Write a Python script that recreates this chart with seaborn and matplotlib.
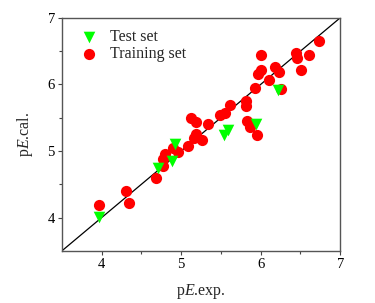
import numpy as np
import pandas as pd
import matplotlib
matplotlib.use("Agg")
import matplotlib.pyplot as plt
import seaborn as sns

# data
train_exp = [3.97, 4.31, 4.34, 4.68, 4.77, 4.77, 4.80, 4.90, 4.96, 5.09,
             5.16, 5.19, 5.26, 5.13, 5.19, 5.34, 5.49, 5.55, 5.61, 5.82,
             5.81, 5.83, 5.87, 5.96, 5.93, 6.00, 5.97, 6.01, 6.11, 6.18,
             6.23, 6.26, 6.44, 6.46, 6.61, 6.51, 6.74]
train_cal = [4.19, 4.40, 4.22, 4.60, 4.78, 4.88, 4.95, 5.04, 4.98, 5.07,
             5.20, 5.26, 5.17, 5.49, 5.43, 5.41, 5.54, 5.57, 5.69, 5.75,
             5.67, 5.45, 5.36, 5.24, 5.94, 6.22, 6.16, 6.44, 6.07, 6.26,
             6.18, 5.93, 6.47, 6.39, 6.44, 6.22, 6.65]
test_exp = [3.97, 4.71, 4.88, 4.92, 5.54, 5.59, 5.94, 6.22]
test_cal = [4.01, 4.75, 4.85, 5.11, 5.24, 5.32, 5.40, 5.91]

train = pd.DataFrame({"exp": train_exp, "cal": train_cal})
test = pd.DataFrame({"exp": test_exp, "cal": test_cal})

sns.set_style("white")
plt.rcParams['font.family'] = ['Liberation Serif', 'DejaVu Serif']
plt.rcParams['mathtext.fontset'] = 'custom'
plt.rcParams['mathtext.rm'] = 'Liberation Serif'
plt.rcParams['mathtext.it'] = 'Liberation Serif:italic'

fig = plt.figure(figsize=(3.75, 3.03), dpi=100)
ax = fig.add_axes([0.165, 0.172, 0.742, 0.769])

# y = x reference line
ax.plot([3.5, 7], [3.5, 7], color="black", lw=0.9, zorder=1)
sns.scatterplot(data=test, x="exp", y="cal", ax=ax, marker="v", color="#00ff00",
                s=70, linewidth=0, label="Test set", zorder=3)
sns.scatterplot(data=train, x="exp", y="cal", ax=ax, marker="o", color="#ff0000",
                s=65, linewidth=0, label="Training set", zorder=2)

ax.set_xlim(3.5, 7)
ax.set_ylim(3.5, 7)
ax.set_xticks([4, 5, 6, 7])
ax.set_yticks([4, 5, 6, 7])
ax.set_xticks([4.5, 5.5, 6.5], minor=True)
ax.set_yticks([4.5, 5.5, 6.5], minor=True)
ax.tick_params(which="major", direction="out", length=3, width=0.8, colors="#444444",
               labelcolor="black", labelsize=10.5, bottom=True, left=True, pad=2)
ax.tick_params(which="minor", direction="out", length=2, width=0.8, colors="#444444",
               bottom=True, left=True)
for sp in ax.spines.values():
    sp.set_color("#555555")
    sp.set_linewidth(1.0)

ax.set_xlabel(r"p$\mathit{E}$.exp.", fontsize=11.5, labelpad=8)
ax.set_ylabel(r"p$\mathit{E}$.cal.", fontsize=11.5, labelpad=9)

ax.legend(loc="upper left", frameon=False, fontsize=11.5, handletextpad=0.3,
          borderaxespad=0.3, labelspacing=0.05, markerscale=1.0)

plt.savefig("out.png", dpi=100)
